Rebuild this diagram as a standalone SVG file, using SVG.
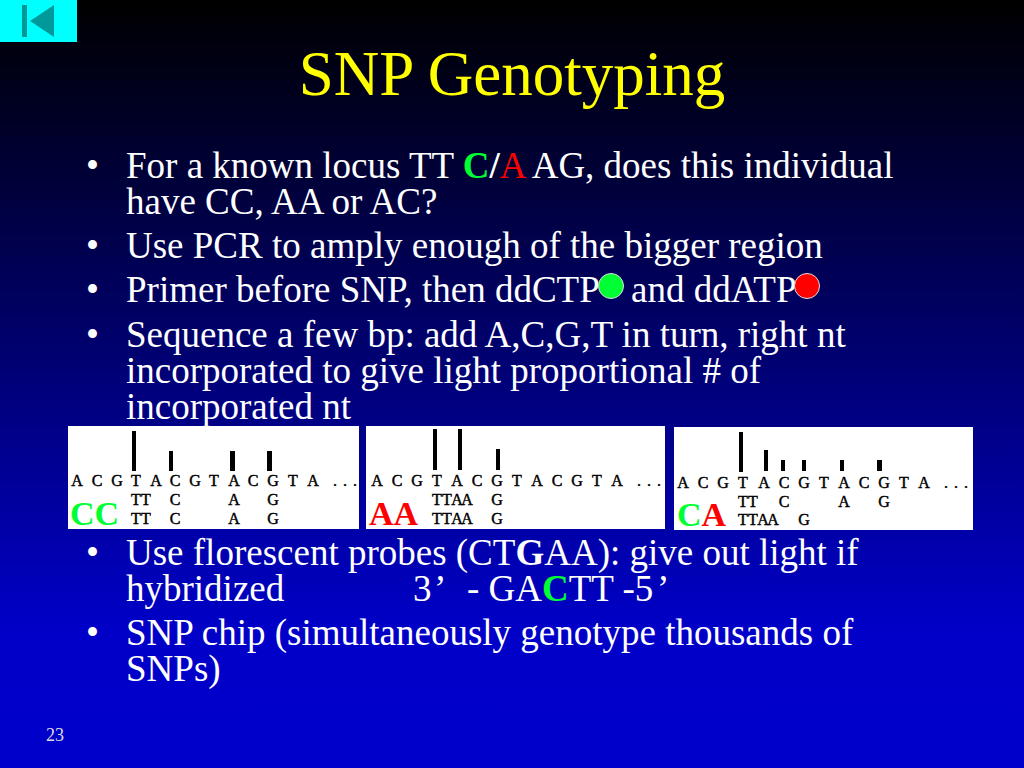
<svg xmlns="http://www.w3.org/2000/svg" width="1024" height="768" viewBox="0 0 1024 768">
<style>
.b{font-family:"Liberation Serif",serif;font-size:37px;fill:#fff}
.t{font-family:"Liberation Serif",serif;font-size:63px;fill:#ff0;text-anchor:middle}
.m{font-family:"Liberation Serif",serif;font-size:16px;fill:#000;text-anchor:middle;stroke:#000;stroke-width:.45}
.l{font-family:"Liberation Serif",serif;font-size:34px;font-weight:bold}
.g{fill:#0f3}.r{fill:#f00}
.bar{fill:#000}.panel{fill:#fff}
.dot{stroke:#ddd;stroke-width:1}
</style>
<defs><linearGradient id="bg" x1="0" y1="0" x2="0" y2="1"><stop offset="0" stop-color="#000"/><stop offset=".82" stop-color="#0000c8"/><stop offset="1" stop-color="#0000cc"/></linearGradient></defs>
<rect width="1024" height="768" fill="url(#bg)"/>
<g id="back-button"><rect width="77" height="42" fill="#0ff"/><rect x="22" y="5" width="5" height="32" fill="#009999"/><polygon points="30,21 54,5 54,37" fill="#009999"/></g>
<text class="t" x="512" y="95">SNP Genotyping</text>
<g id="bullets">
<text class="b" x="86" y="178">•</text><text class="b" x="126" y="178">For a known locus TT <tspan class="g" font-weight="bold">C</tspan><tspan font-weight="bold">/</tspan><tspan class="r">A</tspan> AG, does this individual</text>
<text class="b" x="126" y="214">have CC, AA or AC?</text>
<text class="b" x="86" y="258">•</text><text class="b" x="126" y="258">Use PCR to amply enough of the bigger region</text>
<text class="b" x="86" y="302">•</text><text class="b" x="126" y="302">Primer before SNP, then ddCTP</text><text class="b" x="631" y="302">and ddATP</text>
<text class="b" x="86" y="347">•</text><text class="b" x="126" y="347">Sequence a few bp: add A,C,G,T in turn, right nt</text>
<text class="b" x="126" y="383">incorporated to give light proportional # of</text>
<text class="b" x="126" y="419">incorporated nt</text>
<text class="b" x="86" y="565">•</text><text class="b" x="126" y="565">Use florescent probes (CT<tspan font-weight="bold">G</tspan>AA): give out light if</text>
<text class="b" x="126" y="601">hybridized</text><text class="b" x="413" y="601">3<tspan x="434">’</tspan><tspan x="467">- GA</tspan><tspan class="g" font-weight="bold">C</tspan>TT -5<tspan x="657">’</tspan></text>
<text class="b" x="86" y="645">•</text><text class="b" x="126" y="645">SNP chip (simultaneously genotype thousands of</text>
<text class="b" x="126" y="681">SNPs)</text>
</g>
<circle id="dot-c" class="dot g" cx="611" cy="286" r="12.5"/>
<circle id="dot-a" class="dot r" cx="807" cy="286" r="12.5"/>
<g id="panel-cc"><rect class="panel" x="68" y="426" width="291" height="103"/>
<rect class="bar" x="132" y="431" width="4" height="40"/><rect class="bar" x="169" y="451" width="4" height="20"/><rect class="bar" x="230" y="451" width="5" height="20"/><rect class="bar" x="267" y="451" width="5" height="20"/>
<text class="m" y="486" x="77 97 117 136 156 175 195 214 234 253 273 293 313 335 345 355">ACGTACGTACGTA...</text>
<text class="m" y="505" x="136 146 175 234 273">TTCAG</text><text class="m" y="524" x="136 146 175 234 273">TTCAG</text>
<text class="l g" x="70" y="525">CC</text></g>
<g id="panel-aa"><rect class="panel" x="366" y="426" width="299" height="103"/>
<rect class="bar" x="433" y="429" width="4" height="41"/><rect class="bar" x="458" y="429" width="4" height="41"/><rect class="bar" x="496" y="449" width="4" height="21"/>
<text class="m" y="486" x="377 397 417 437 457 477 497 517 537 557 577 597 617 639 649 659">ACGTACGTACGTA...</text>
<text class="m" y="505" x="437 447 457 467 497">TTAAG</text><text class="m" y="524" x="437 447 457 467 497">TTAAG</text>
<text class="l r" x="369" y="525">AA</text></g>
<g id="panel-ca"><rect class="panel" x="674" y="427" width="299" height="103"/>
<rect class="bar" x="739" y="432" width="4" height="40"/><rect class="bar" x="764" y="450" width="4" height="21"/><rect class="bar" x="781" y="460" width="4" height="11"/><rect class="bar" x="802" y="460" width="4" height="11"/><rect class="bar" x="840" y="460" width="4" height="11"/><rect class="bar" x="877" y="460" width="5" height="11"/>
<text class="m" y="488" x="683 703 723 743 764 784 804 824 844 864 884 904 924 946 956 966">ACGTACGTACGTA...</text>
<text class="m" y="507" x="743 753 784 844 884">TTCAG</text><text class="m" y="525" x="743 753 763 773 804">TTAAG</text>
<text class="l" x="677" y="526"><tspan class="g">C</tspan><tspan class="r">A</tspan></text></g>
<text id="page-number" x="46" y="741" font-family="Liberation Serif, serif" font-size="18" fill="#ddd">23</text>
</svg>
